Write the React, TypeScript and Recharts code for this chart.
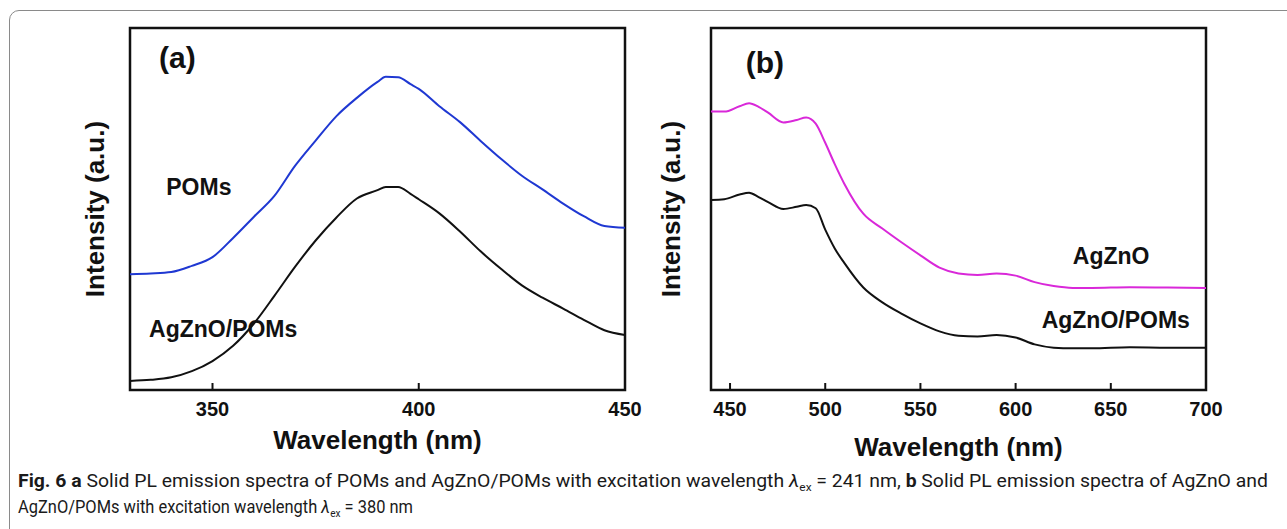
import React from 'react';
import { LineChart, Line, XAxis, YAxis, ReferenceArea, ReferenceDot } from 'recharts';

// panel (a): excitation 241 nm
const wlA = [330, 335, 340, 345, 350, 355, 360, 365, 370, 375, 380, 385, 390, 392, 395, 398, 400, 405, 410, 415, 420, 425, 430, 435, 440, 445, 450];
const pomsA = [32.0, 32.2, 32.6, 34.3, 36.7, 42.0, 47.8, 53.6, 61.9, 68.9, 75.6, 80.7, 85.1, 86.5, 86.4, 84.5, 83.2, 78.4, 74.0, 68.8, 63.8, 59.2, 55.4, 51.5, 48.0, 45.3, 44.8];
const agznoPomsA = [2.5, 2.8, 3.5, 5.2, 8.0, 12.2, 18.3, 26.0, 34.0, 41.3, 47.6, 52.9, 55.2, 56.1, 56.1, 54.2, 52.7, 48.8, 43.8, 38.3, 33.4, 28.9, 25.5, 22.5, 19.4, 16.5, 15.2];
const ticksA = [350, 400, 450];

// panel (b): excitation 380 nm
const wlB = [440, 447, 455, 460, 465, 470, 478, 485, 490, 495, 500, 505, 510, 520, 530, 540, 550, 560, 570, 580, 590, 600, 610, 620, 630, 640, 660, 680, 700];
const agznoB = [76.9, 76.9, 78.4, 79.2, 78.2, 76.6, 73.9, 74.6, 75.3, 73.6, 68.3, 62.4, 57.0, 48.7, 44.6, 40.8, 37.2, 33.8, 32.2, 31.8, 32.2, 31.6, 29.8, 28.7, 28.2, 28.2, 28.4, 28.3, 28.2];
const agznoPomsB = [52.5, 52.7, 54.0, 54.5, 53.3, 51.9, 50.0, 50.6, 51.1, 50.2, 44.3, 39.1, 35.1, 28.3, 24.2, 21.1, 18.4, 16.2, 15.0, 14.8, 15.2, 14.5, 12.6, 11.7, 11.5, 11.5, 11.8, 11.7, 11.7];
const ticksB = [450, 500, 550, 600, 650, 700];

const dataA = wlA.map((wl, i) => ({ wl, poms: pomsA[i], mix: agznoPomsA[i] }));
const dataB = wlB.map((wl, i) => ({ wl, agzno: agznoB[i], mix: agznoPomsB[i] }));

const FONT = '"Liberation Sans", Arial, sans-serif';
const CAPTION_FONT = 'Roboto, "Noto Sans", sans-serif';
const tickStyle = { fontFamily: FONT, fontSize: 20, fontWeight: 700, fill: '#111' };
const axisTitle = { fontFamily: FONT, fontSize: 26, fontWeight: 700, fill: '#111', textAnchor: 'middle' as const };
const noteStyle = { fontFamily: FONT, fontSize: 23, fontWeight: 700, fill: '#111' };
const panelStyle = { fontFamily: FONT, fontSize: 30, fontWeight: 700, fill: '#111' };

function Panel(props: {
  data: any[];
  domain: [number, number];
  ticks: number[];
  series: { key: string; color: string }[];
  notes: { x: number; y: number; text: string; big?: boolean }[];
  yLabelOffset: number;
  xLabelOffset: number;
  yAxisWidth: number;
  right: number;
}) {
  const { data, domain, ticks, series, notes } = props;
  return (
    <LineChart width={650} height={470} data={data} margin={{ top: 28, right: props.right, left: 0, bottom: 0 }}>
      <XAxis
        dataKey="wl"
        type="number"
        domain={domain}
        ticks={ticks}
        allowDataOverflow
        height={80}
        axisLine={false}
        tickLine={{ stroke: '#111', strokeWidth: 2 }}
        tickSize={-7}
        tickMargin={19}
        tick={tickStyle}
        label={{ value: 'Wavelength (nm)', position: 'insideBottom', offset: props.xLabelOffset, style: axisTitle }}
      />
      <YAxis
        type="number"
        domain={[0, 100]}
        width={props.yAxisWidth}
        tick={false}
        tickLine={false}
        axisLine={false}
        label={{ value: 'Intensity (a.u.)', angle: -90, position: 'insideLeft', offset: props.yLabelOffset, style: axisTitle }}
      />
      <ReferenceArea x1={domain[0]} x2={domain[1]} y1={0} y2={100} fill="none" stroke="#111" strokeWidth={2.5} />
      {series.map(s => (
        <Line key={s.key} type="monotone" dataKey={s.key} stroke={s.color} strokeWidth={2} dot={false} isAnimationActive={false} />
      ))}
      {notes.map(n => (
        <ReferenceDot
          key={n.text}
          x={n.x}
          y={n.y}
          r={0}
          fill="none"
          stroke="none"
          label={{ value: n.text, position: 'center', style: n.big ? panelStyle : noteStyle }}
        />
      ))}
    </LineChart>
  );
}

export default function App() {
  return (
    <div style={{ position: 'absolute', left: 0, top: 0, width: 1287, height: 529, overflow: 'hidden', background: '#fff' }}>
      <div style={{ position: 'absolute', left: 9, top: 10, width: 1300, height: 530, border: '1.5px solid #8a8a8a', borderRadius: 10 }} />
      <div style={{ position: 'absolute', left: 0, top: 0 }}>
        <Panel
          data={dataA}
          domain={[330, 450]}
          ticks={ticksA}
          series={[{ key: 'poms', color: '#1f38d2' }, { key: 'mix', color: '#111' }]}
          notes={[
            { x: 341.5, y: 91.9, text: '(a)', big: true },
            { x: 346.7, y: 56.1, text: 'POMs' },
            { x: 352.6, y: 17.0, text: 'AgZnO/POMs' },
          ]}
          yLabelOffset={95}
          xLabelOffset={21}
          yAxisWidth={130}
          right={25}
        />
      </div>
      <div style={{ position: 'absolute', left: 580, top: 0 }}>
        <Panel
          data={dataB}
          domain={[440, 700]}
          ticks={ticksB}
          series={[{ key: 'agzno', color: '#d928d9' }, { key: 'mix', color: '#111' }]}
          notes={[
            { x: 468.3, y: 90.6, text: '(b)', big: true },
            { x: 650.2, y: 37.0, text: 'AgZnO' },
            { x: 652.6, y: 19.5, text: 'AgZnO/POMs' },
          ]}
          yLabelOffset={91}
          xLabelOffset={14}
          yAxisWidth={131}
          right={24}
        />
      </div>
      <svg style={{ position: 'absolute', left: 0, top: 460 }} width={1287} height={69}>
        <text x={18} y={27} fontFamily={CAPTION_FONT} fontSize={18} fill="#1a1a1a" textLength={1250} lengthAdjust="spacingAndGlyphs">
          <tspan fontWeight={700}>Fig. 6</tspan>
          {'  '}
          <tspan fontWeight={700}>a</tspan>
          {' Solid PL emission spectra of POMs and AgZnO/POMs with excitation wavelength '}
          <tspan fontStyle="italic">λ</tspan>
          <tspan fontSize={11} baselineShift="-4">ex</tspan>
          {' = 241 nm, '}
          <tspan fontWeight={700}>b</tspan>
          {' Solid PL emission spectra of AgZnO and'}
        </text>
        <text x={18} y={53} fontFamily={CAPTION_FONT} fontSize={18} fill="#1a1a1a" textLength={395} lengthAdjust="spacingAndGlyphs">
          {'AgZnO/POMs with excitation wavelength '}
          <tspan fontStyle="italic">λ</tspan>
          <tspan fontSize={11} baselineShift="-4">ex</tspan>
          {' = 380 nm'}
        </text>
      </svg>
    </div>
  );
}
